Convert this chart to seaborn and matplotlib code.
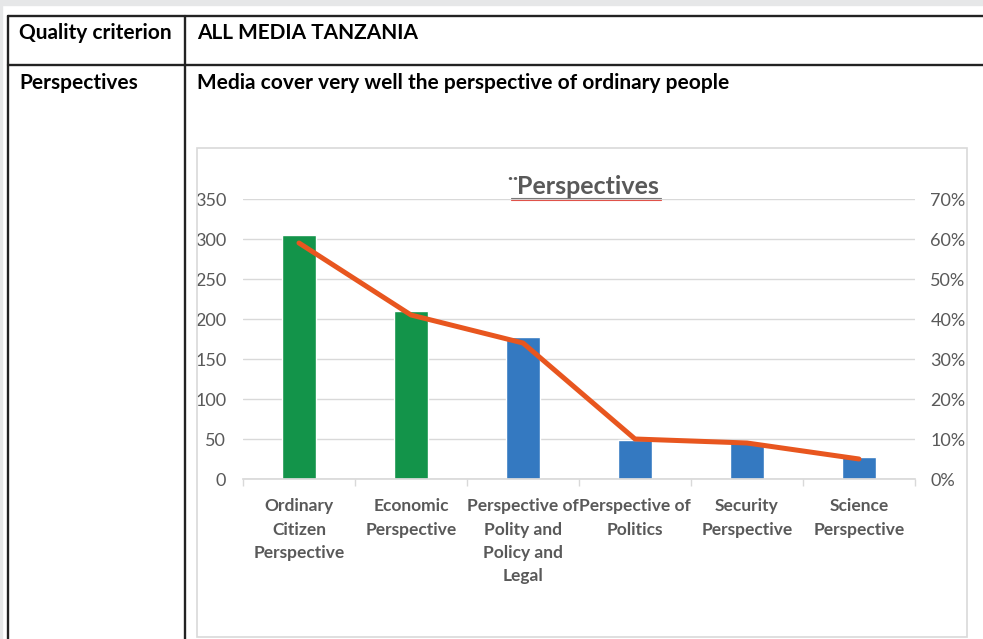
import numpy as np
import matplotlib
matplotlib.use("Agg")
import matplotlib.pyplot as plt
import seaborn as sns
from matplotlib.patches import Rectangle
from matplotlib.lines import Line2D
from matplotlib.ticker import PercentFormatter

# data
categories = ["Ordinary\nCitizen\nPerspective", "Economic\nPerspective",
              "Perspective of\nPolity and\nPolicy and\nLegal", "Perspective of\nPolitics",
              "Security\nPerspective", "Science\nPerspective"]
counts = [305, 210, 178, 49, 46, 28]
shares = [59, 41, 34, 10, 9, 5]  # percent, right axis
bar_colors = ["#13944a", "#13944a", "#3479c1", "#3479c1", "#3479c1", "#3479c1"]
left_ticks = [0, 50, 100, 150, 200, 250, 300, 350]
right_ticks = [0, 10, 20, 30, 40, 50, 60, 70]

sns.set_theme(style="white")
plt.rcParams['font.family'] = ['Lato', 'DejaVu Sans']

W, H = 983, 639
fig = plt.figure(figsize=(W / 100, H / 100), dpi=100)


def fx(px):
    return px / W


def fy(py):
    return 1 - py / H


# page background bits and table frame
fig.patches.append(Rectangle((0, fy(5)), 1, 5 / H, transform=fig.transFigure,
                             color='#e6e7e8', zorder=0))
fig.patches.append(Rectangle((0, 0), 2 / W, 1, transform=fig.transFigure,
                             color='#e6e7e8', zorder=0))
tbl = dict(color='#222222', lw=1.7, transform=fig.transFigure)
fig.add_artist(Line2D([fx(8), 1], [fy(16), fy(16)], **tbl))
fig.add_artist(Line2D([fx(8), 1], [fy(65), fy(65)], **tbl))
fig.add_artist(Line2D([fx(8), fx(8)], [fy(16), 0], **tbl))
fig.add_artist(Line2D([fx(185), fx(185)], [fy(16), 0], **tbl))

cell = dict(fontsize=15, fontweight='bold', color='black', va='center', ha='left')
fig.text(fx(19), fy(33), 'Quality criterion', **cell)
fig.text(fx(197), fy(33), 'ALL MEDIA TANZANIA', **cell)
fig.text(fx(19), fy(83), 'Perspectives', **cell)
fig.text(fx(197), fy(83), 'Media cover very well the perspective of ordinary people', **cell)

# chart frame
fig.patches.append(Rectangle((fx(197), fy(637)), (967 - 197) / W, (637 - 148) / H,
                             transform=fig.transFigure, fill=False,
                             ec='#d9d9d9', lw=1.2, zorder=1))

ax = fig.add_axes([fx(243), fy(479), (915 - 243) / W, (479 - 199) / H])
sns.barplot(x=categories, y=counts, hue=categories, palette=bar_colors,
            legend=False, width=0.31, saturation=1, ax=ax, zorder=2)
ax.set_ylim(0, 350)
ax.set_yticks(left_ticks)
ax.yaxis.grid(True, color='#d9d9d9', lw=1)
ax.set_axisbelow(True)
for s in ['top', 'left', 'right']:
    ax.spines[s].set_visible(False)
ax.spines['bottom'].set_color('#d9d9d9')
ax.set_xlabel('')
ax.set_ylabel('')
ax.tick_params(axis='y', length=0, pad=12, labelsize=13, labelcolor='#595959')

ax.set_xticks(range(len(categories)))
ax.set_xticklabels(categories, fontweight='bold', color='#595959', fontsize=12.5,
                   linespacing=1.55, va='top')
ax.set_xticks(np.arange(-0.5, len(categories), 1), minor=True)
ax.tick_params(axis='x', which='major', length=0, pad=14)
ax.tick_params(axis='x', which='minor', bottom=True, length=5, width=1,
               color='#d9d9d9', direction='out')

ax2 = ax.twinx()
sns.lineplot(x=np.arange(len(shares)), y=shares, ax=ax2, color='#e8561f',
             lw=3.6, sort=False, solid_capstyle='round')
ax2.set_ylim(0, 70)
ax2.set_yticks(right_ticks)
ax2.yaxis.set_major_formatter(PercentFormatter(decimals=0))
for s in ax2.spines.values():
    s.set_visible(False)
ax2.tick_params(axis='y', length=0, pad=11, labelsize=13, labelcolor='#595959')
ax2.set_ylabel('')
ax.set_xlim(-0.5, len(categories) - 0.5)

# chart title with spell-check underline
fig.text(fx(583), fy(186), '\u00a8Perspectives', ha='center', va='center',
         fontsize=18, fontweight='bold', color='#595959')
fig.add_artist(Line2D([fx(511), fx(661)], [fy(198), fy(198)], color='#7a7a7a',
                      lw=0.8, transform=fig.transFigure))
fig.add_artist(Line2D([fx(511), fx(661)], [fy(200), fy(200)], color='#e0524a',
                      lw=0.8, transform=fig.transFigure))

fig.savefig('out.png', dpi=100)
